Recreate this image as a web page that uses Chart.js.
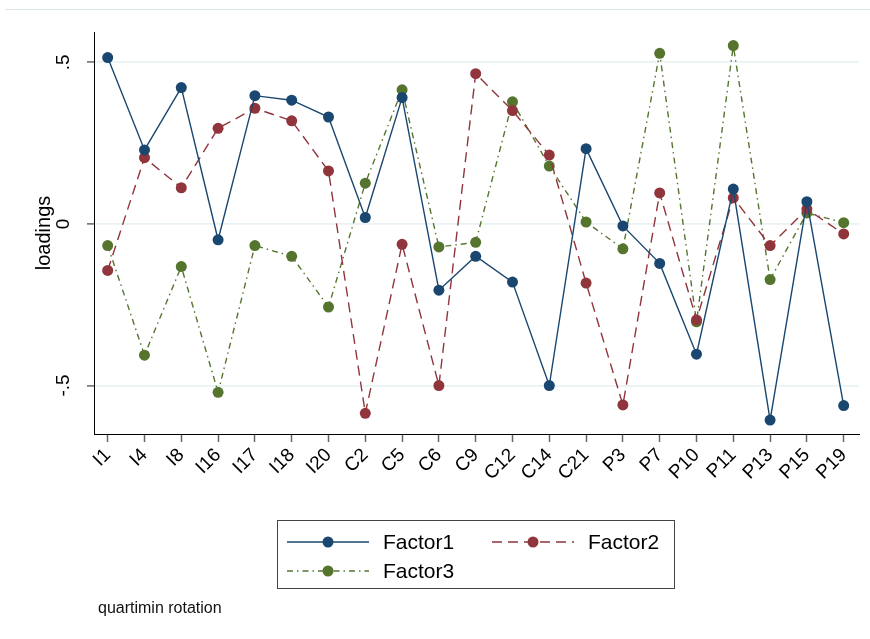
<!DOCTYPE html>
<html>
<head>
<meta charset="utf-8">
<script src="https://cdn.jsdelivr.net/npm/chart.js@4/dist/chart.umd.min.js"></script>
<style>
   html, body { margin: 0; padding: 0; background: #ffffff; }
   canvas { display: block; }
</style>
</head>
<body>
<canvas id="grafico_loadings" width="870" height="639"></canvas>
<script>
const variaveis = ['I1', 'I4', 'I8', 'I16', 'I17', 'I18', 'I20', 'C2', 'C5', 'C6', 'C9', 'C12', 'C14', 'C21', 'P3', 'P7', 'P10', 'P11', 'P13', 'P15', 'P19'];
const factor1 = [0.515, 0.229, 0.422, -0.049, 0.397, 0.383, 0.331, 0.020, 0.391, -0.205, -0.100, -0.180, -0.500, 0.233, -0.006, -0.122, -0.403, 0.108, -0.607, 0.069, -0.562];
const factor2 = [-0.144, 0.205, 0.112, 0.296, 0.358, 0.319, 0.164, -0.586, -0.063, -0.500, 0.465, 0.351, 0.213, -0.183, -0.560, 0.096, -0.297, 0.081, -0.067, 0.046, -0.031];
const factor3 = [-0.067, -0.406, -0.132, -0.521, -0.067, -0.100, -0.257, 0.126, 0.415, -0.071, -0.057, 0.378, 0.179, 0.006, -0.077, 0.528, -0.303, 0.552, -0.172, 0.034, 0.004];
const yTicks = [-0.5, 0, 0.5];
const yTickLabels = ['-.5', '0', '.5'];
const nota = 'quartimin rotation';

const fonte = '"Liberation Sans", Arial, sans-serif';
const azul = '#1A476F';
const vinho = '#90353B';
const verde = '#55752F';

function pontos(valores) {
   return valores.map((v, i) => ({ x: i, y: v }));
}

function serie(nome, valores, cor, tracejado) {
   return {
      label: nome,
      data: pontos(valores),
      borderColor: cor,
      backgroundColor: cor,
      borderWidth: 1.4,
      borderDash: tracejado,
      pointRadius: 5.5,
      pointHoverRadius: 5.5,
      pointBackgroundColor: cor,
      pointBorderWidth: 0,
      tension: 0,
      clip: false
   };
}

// legenda no estilo do Stata + nota de rodape + moldura de cima
const legendaStata = {
   id: 'legendaStata',
   afterDraw(chart) {
      const ctx = chart.ctx;
      ctx.save();

      ctx.strokeStyle = '#DDE6E6';
      ctx.lineWidth = 1;
      ctx.beginPath();
      ctx.moveTo(5, 9.5);
      ctx.lineTo(870, 9.5);
      ctx.stroke();

      ctx.strokeStyle = '#444444';
      ctx.strokeRect(277.5, 520.5, 397, 68);

      const itens = [
         { nome: 'Factor1', cor: azul, dash: [], x: 287, y: 542 },
         { nome: 'Factor2', cor: vinho, dash: [10, 6], x: 492, y: 542 },
         { nome: 'Factor3', cor: verde, dash: [6, 4, 1.5, 4], x: 287, y: 571 }
      ];
      itens.forEach(item => {
         ctx.strokeStyle = item.cor;
         ctx.lineWidth = 1.3;
         ctx.setLineDash(item.dash);
         ctx.beginPath();
         ctx.moveTo(item.x, item.y);
         ctx.lineTo(item.x + 82, item.y);
         ctx.stroke();
         ctx.setLineDash([]);
         ctx.fillStyle = item.cor;
         ctx.beginPath();
         ctx.arc(item.x + 41, item.y, 5.5, 0, Math.PI * 2);
         ctx.fill();
         ctx.fillStyle = '#000000';
         ctx.font = '21px ' + fonte;
         ctx.textBaseline = 'middle';
         ctx.textAlign = 'left';
         ctx.fillText(item.nome, item.x + 96, item.y + 1);
      });

      ctx.fillStyle = '#111111';
      ctx.font = '16px ' + fonte;
      ctx.textBaseline = 'middle';
      ctx.fillText(nota, 98, 609);
      ctx.restore();
   }
};

var ctx = document.getElementById('grafico_loadings');
new Chart(ctx, {
   type: 'line',
   data: {
      datasets: [
         serie('Factor1', factor1, azul, []),
         serie('Factor2', factor2, vinho, [10, 6]),
         serie('Factor3', factor3, verde, [6, 4, 1.5, 4])
      ]
   },
   options: {
      responsive: false,
      animation: false,
      events: [],
      layout: {
         padding: { left: 0, top: 32, right: 11, bottom: 0 }
      },
      plugins: {
         legend: { display: false },
         tooltip: { enabled: false }
      },
      scales: {
         x: {
            type: 'linear',
            min: -0.372,
            max: 20.416,
            afterBuildTicks: (scale) => {
               scale.ticks = variaveis.map((v, i) => ({ value: i }));
            },
            afterFit: (scale) => { scale.height = 205; },
            border: { display: true, color: '#000000', width: 1 },
            grid: {
               drawOnChartArea: false,
               drawTicks: true,
               tickLength: 8,
               tickColor: '#666666',
               tickWidth: 1.5
            },
            ticks: {
               autoSkip: false,
               minRotation: 45,
               maxRotation: 45,
               padding: 2,
               color: '#000000',
               font: { family: fonte, size: 19 },
               callback: (valor) => variaveis[valor]
            }
         },
         y: {
            type: 'linear',
            min: -0.65,
            max: 0.594,
            afterBuildTicks: (scale) => {
               scale.ticks = yTicks.map(v => ({ value: v }));
            },
            afterFit: (scale) => { scale.width = 94; },
            border: { display: true, color: '#000000', width: 1 },
            grid: {
               color: '#EAF2F3',
               lineWidth: 1.8,
               drawTicks: true,
               tickLength: 7,
               tickColor: '#666666',
               tickWidth: 1.5
            },
            title: {
               display: true,
               text: 'loadings',
               color: '#000000',
               font: { family: fonte, size: 20 },
               padding: { top: 32, bottom: 0 }
            },
            ticks: {
               minRotation: 90,
               maxRotation: 90,
               crossAlign: 'center',
               padding: 12,
               color: '#000000',
               font: { family: fonte, size: 19 },
               callback: (valor) => yTickLabels[yTicks.indexOf(valor)]
            }
         }
      }
   },
   plugins: [legendaStata]
});
</script>
</body>
</html>
